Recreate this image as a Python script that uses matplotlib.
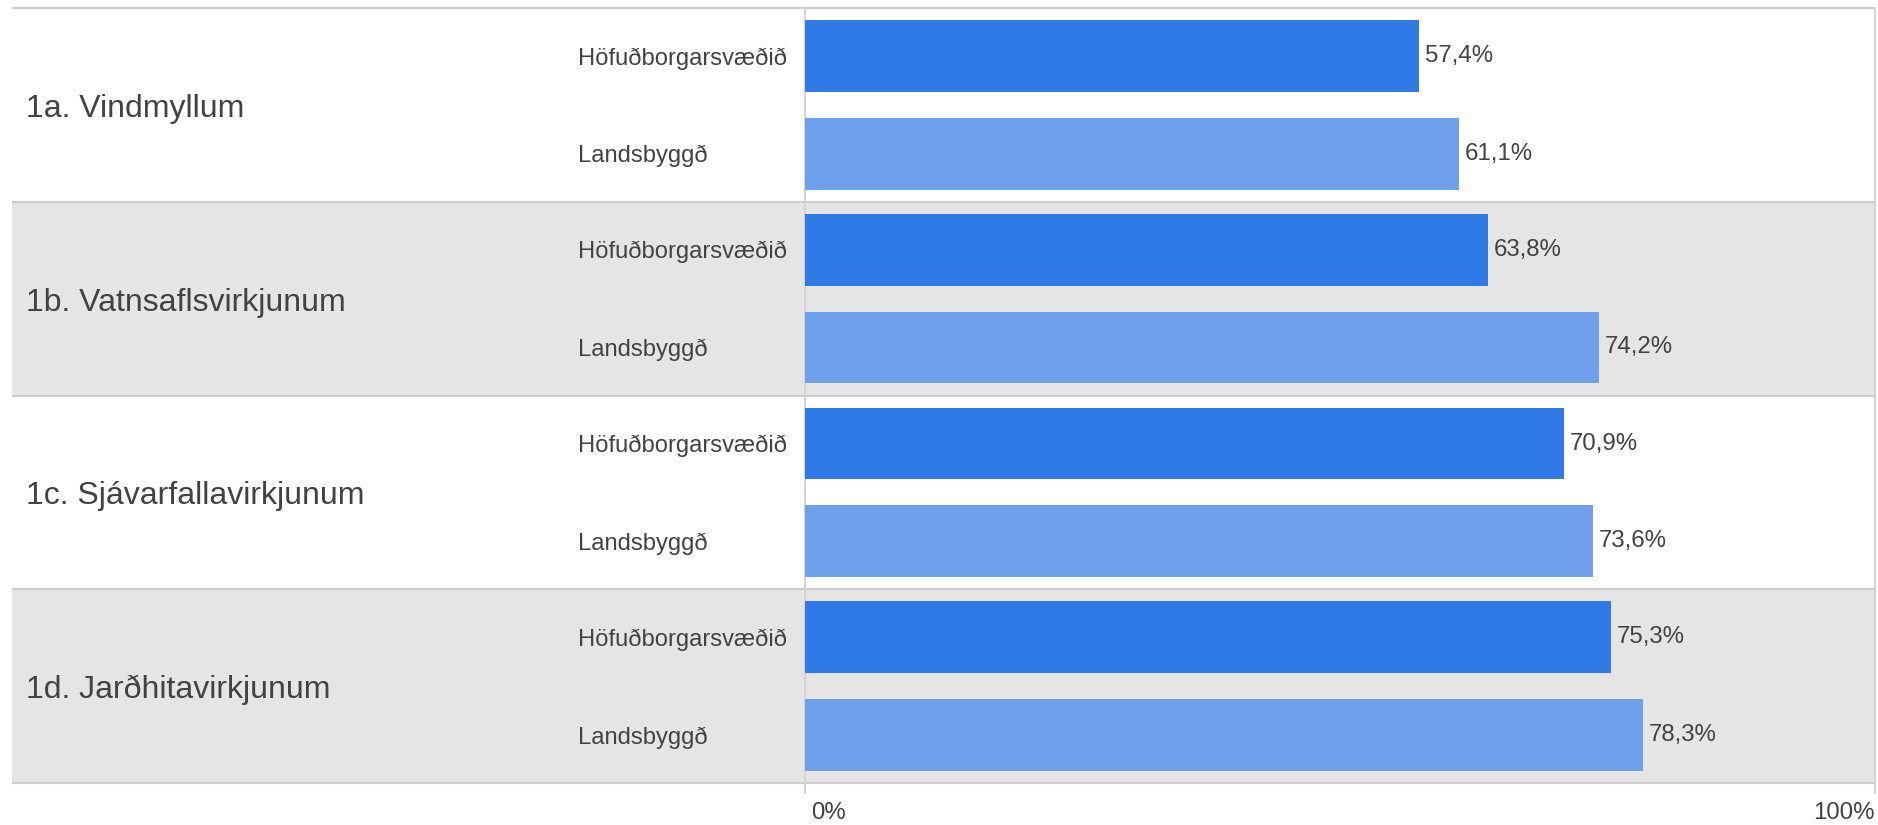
import matplotlib
matplotlib.use("Agg")
import matplotlib.pyplot as plt
from matplotlib.patches import Rectangle
from matplotlib.transforms import blended_transform_factory, ScaledTranslation

plt.rcParams['font.family'] = ['Liberation Sans', 'DejaVu Sans']

groups = ["1a. Vindmyllum", "1b. Vatnsaflsvirkjunum", "1c. Sjávarfallavirkjunum", "1d. Jarðhitavirkjunum"]
series_names = ["Höfuðborgarsvæðið", "Landsbyggð"]
hofud = [57.4, 63.8, 70.9, 75.3]
lands = [61.1, 74.2, 73.6, 78.3]
xtick_vals = [0, 100]
xtick_labels = ["0%", "100%"]

W, H = 1878, 825
fig = plt.figure(figsize=(W / 100, H / 100), dpi=100)
fig.patch.set_facecolor("white")

ax_left, ax_right = 805, 1875
ax_top, ax_bot = 8, 783
ax = fig.add_axes([ax_left / W, 1 - ax_bot / H, (ax_right - ax_left) / W, (ax_bot - ax_top) / H])
ax.set_xlim(0, 100)
ax.set_ylim(len(groups) - 0.5, -0.5)
ax.set_facecolor("none")
for s in ax.spines.values():
    s.set_visible(False)

dark = "#2f7ae6"
light = "#6ea0ec"
band = "#e5e5e5"
line_c = "#cccccc"
txt = "#424242"

bt = blended_transform_factory(fig.transFigure, ax.transData)
table_left = 12 / W
table_right = ax_right / W

# row bands
for i in range(len(groups)):
    if i % 2 == 1:
        ax.add_patch(Rectangle((table_left, i - 0.5), table_right - table_left, 1.0,
                               transform=bt, facecolor=band, edgecolor="none",
                               zorder=0, clip_on=False))
# row boundary lines
for i in range(len(groups) + 1):
    ax.plot([table_left, table_right], [i - 0.5, i - 0.5], transform=bt,
            color=line_c, lw=1.5, zorder=1, clip_on=False, solid_capstyle="butt")

# vertical lines at 0 and 100
for xv in xtick_vals:
    ax.axvline(xv, color="#d4d4d4", lw=1.5, zorder=1, clip_on=False)

off = 0.252
h = 0.371
ys = list(range(len(groups)))
ax.barh([y - off for y in ys], hofud, height=h, color=dark, zorder=2)
ax.barh([y + off for y in ys], lands, height=h, color=light, zorder=2)

lbl_off = ScaledTranslation(6 / 100, 0, fig.dpi_scale_trans)
for y, v in zip(ys, hofud):
    ax.text(v, y - off, f"{v:.1f}%".replace(".", ","), transform=ax.transData + lbl_off,
            ha="left", va="center", fontsize=17.3, color=txt)
for y, v in zip(ys, lands):
    ax.text(v, y + off, f"{v:.1f}%".replace(".", ","), transform=ax.transData + lbl_off,
            ha="left", va="center", fontsize=17.3, color=txt)

# group labels and series labels
grp_shift = bt + ScaledTranslation(0, -4 / 100, fig.dpi_scale_trans)
sub_shift = bt + ScaledTranslation(0, -2.5 / 100, fig.dpi_scale_trans)
for y, g in zip(ys, groups):
    ax.text(26 / W, y, g, transform=grp_shift, ha="left", va="center", fontsize=23, color=txt)
    ax.text(578 / W, y - off, series_names[0], transform=sub_shift, ha="left", va="center",
            fontsize=17.1, color=txt)
    ax.text(578 / W, y + off, series_names[1], transform=sub_shift, ha="left", va="center",
            fontsize=17.1, color=txt)

ax.set_yticks([])
ax.set_xticks(xtick_vals)
ax.set_xticklabels(xtick_labels, fontsize=17.3, color=txt)
ax.tick_params(axis="x", length=8, width=1.5, color="#d4d4d4", pad=6)
tl = ax.get_xticklabels()
tl[0].set_ha("left")
tl[0].set_transform(tl[0].get_transform() + ScaledTranslation(6 / 100, 0, fig.dpi_scale_trans))
tl[-1].set_ha("right")

fig.savefig("out.png", dpi=100, facecolor="white")
